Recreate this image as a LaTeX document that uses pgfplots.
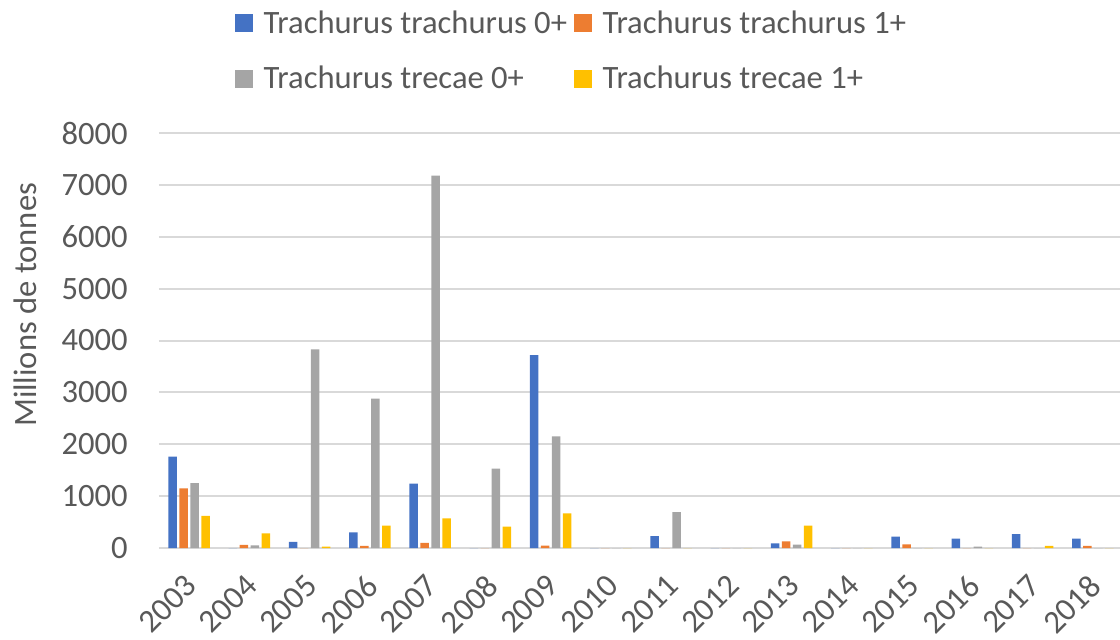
\documentclass[border=0pt]{standalone}
\usepackage{pgfplots}
\pgfplotsset{compat=1.18}
\usepackage{pgfplotstable}
\usepackage{fontspec}
\setmainfont{Carlito}
\definecolor{cblue}{HTML}{4472C4}
\definecolor{corange}{HTML}{ED7D31}
\definecolor{cgray}{HTML}{A5A5A5}
\definecolor{cyellow}{HTML}{FFC000}
\definecolor{gridc}{HTML}{D9D9D9}
\definecolor{txt}{HTML}{595959}
\pgfplotstableread{
x tt0 tt1 tr0 tr1
0 1760 1150 1250 620
1 0 60 50 280
2 120 0 3830 25
3 300 40 2880 430
4 1240 100 7180 570
5 0 0 1530 410
6 3720 45 2150 670
7 0 0 0 0
8 230 0 690 0
9 0 0 0 0
10 90 130 65 430
11 0 0 0 0
12 220 70 0 0
13 180 0 25 0
14 270 0 0 40
15 180 40 0 0
}\data
\begin{document}
\begin{tikzpicture}
\begin{axis}[
  at={(0,0)}, anchor=south west,
  scale only axis, width=482pt, height=207.5pt,
  xmin=-0.5, xmax=15.5, ymin=0, ymax=8000,
  ybar=1.25pt, bar width=4.25pt,
  xtick={0,...,15},
  xticklabels={2003,2004,2005,2006,2007,2008,2009,2010,2011,2012,2013,2014,2015,2016,2017,2018},
  ytick={0,1000,...,8000},
  scaled y ticks=false,
  /pgf/number format/1000 sep={},
  /pgf/number format/assume math mode=true,
  ymajorgrids, grid style={draw=gridc, line width=1pt},
  axis x line*=bottom, axis y line*=left,
  x axis line style={draw=gridc, line width=1.2pt, -},
  y axis line style={draw=none, -},
  major tick length=0pt,
  tick label style={font=\fontsize{16.3}{19}\selectfont, text=txt},
  yticklabel style={anchor=east, inner sep=0pt, xshift=-15.5pt},
  xticklabel style={xshift=-2.8pt, yshift=-12.3pt, rotate=45, anchor=north east, inner sep=0pt},
  ylabel={Millions de tonnes},
  every axis y label/.style={at={(axis description cs:-0.139,0.586)}, rotate=90, anchor=center,
    font=\fontsize{16.3}{19}\selectfont, text=txt},
  legend columns=2,
  legend cell align=left,
  legend image code/.code={\fill[#1] (0pt,-4.4pt) rectangle (8.8pt,4.4pt);},
  legend style={at={(axis description cs:0.0788,1.31)}, anchor=north west,
    draw=none, fill=none, inner sep=0pt, outer sep=0pt,
    font=\fontsize{16.3}{19}\selectfont, text=txt,
    row sep=9pt,
    /tikz/every even column/.append style={column sep=0.5pt},
    /tikz/every odd column/.append style={column sep=2.5pt},
    nodes={inner sep=3pt}},
  every axis plot/.append style={draw=none},
]
\addplot[fill=cblue] table[x=x, y=tt0] {\data};
\addplot[fill=corange] table[x=x, y=tt1] {\data};
\addplot[fill=cgray] table[x=x, y=tr0] {\data};
\addplot[fill=cyellow] table[x=x, y=tr1] {\data};
\legend{Trachurus trachurus 0+, Trachurus trachurus 1+, Trachurus trecae 0+, Trachurus trecae 1+}
\end{axis}
\pgfresetboundingbox
\path (-79.5pt,-45.5pt) rectangle (480.5pt,274pt);
\end{tikzpicture}
\end{document}
